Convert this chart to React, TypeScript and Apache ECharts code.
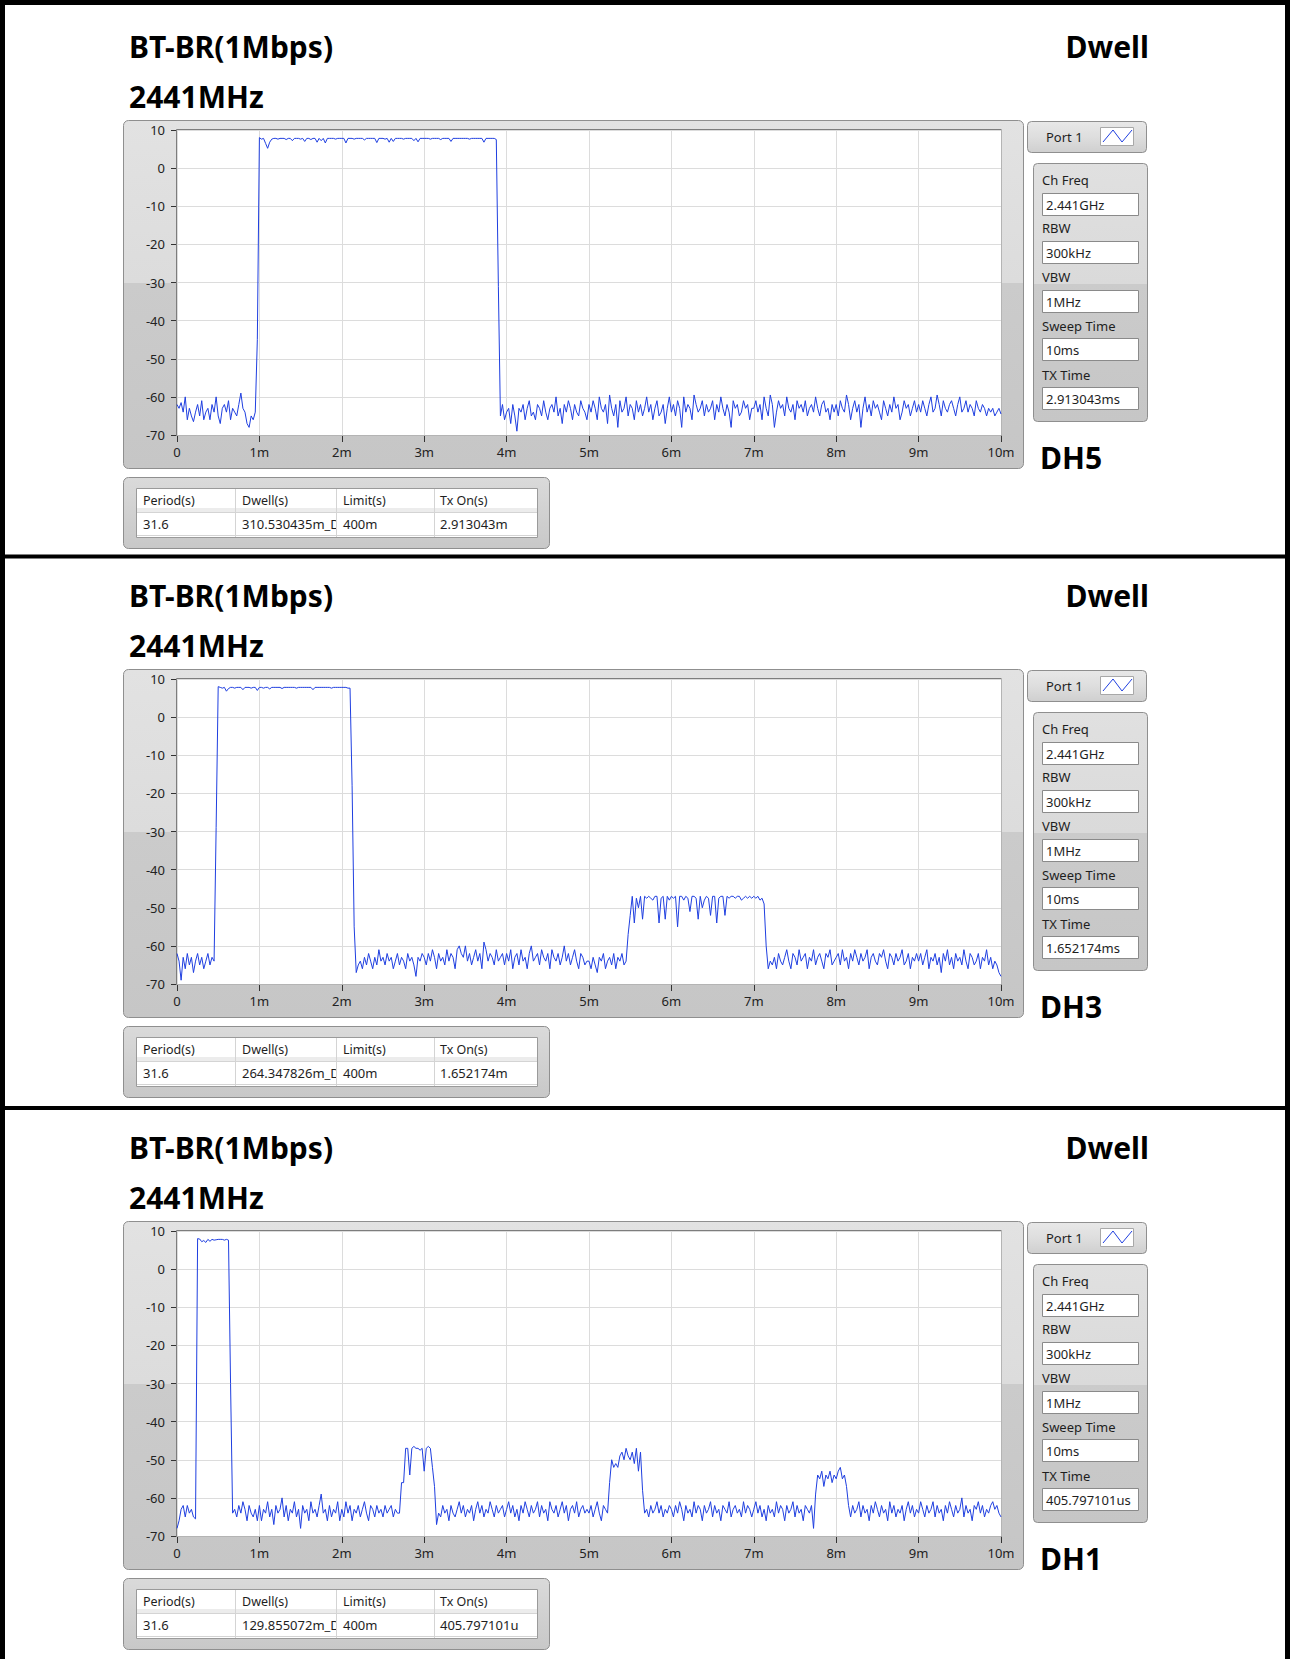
import React, { useEffect, useRef } from 'react';
import * as echarts from 'echarts';

const W = 1290;
const H = 1659;
const panelOffsets = [0, 549, 1101];
const titleText = 'BT-BR(1Mbps)';
const freqText = '2441MHz';
const dwellTitle = 'Dwell';
const packetTypes = ['DH5', 'DH3', 'DH1'];
const portLabel = 'Port 1';
const settingLabels = ['Ch Freq', 'RBW', 'VBW', 'Sweep Time', 'TX Time'];
const fixedSettingValues = ['2.441GHz', '300kHz', '1MHz', '10ms'];
const txTimes = ['2.913043ms', '1.652174ms', '405.797101us'];
const tableHeaders = ['Period(s)', 'Dwell(s)', 'Limit(s)', 'Tx On(s)'];
const periods = ['31.6', '31.6', '31.6'];
const dwells = ['310.530435m_D', '264.347826m_D', '129.855072m_D'];
const limits = ['400m', '400m', '400m'];
const txOns = ['2.913043m', '1.652174m', '405.797101u'];
const xTickLabels = ['0', '1m', '2m', '3m', '4m', '5m', '6m', '7m', '8m', '9m', '10m'];
const sampleStepMs = 0.025;

// DH5 trace, one row per millisecond (40 samples), final sample at 10 ms
const traceDH5 = [
  -62,-63,-61.5,-64,-60,-66,-63,-65,-66.5,-64,-62,-65,-61,-66,-64,-63,-66,-62,-64,-60,-65,-67,-63,-62,-64,-61,-66,-63,-64,-65,-62,-59,-63,-64,-67,-68,-65,-66,-64,-45,
  8,7.6,7.8,6.5,5.2,6.8,7.6,7.8,7.8,7.6,7.8,7.8,7.8,7.5,7.8,7.8,7.2,7.8,7.8,7.8,7.6,7.8,7.0,7.8,7.8,7.5,7.8,7.8,6.8,7.8,7.2,7.8,6.6,7.8,7.8,7.8,7.8,7.6,7.8,7.8,
  7.8,7.8,6.6,7.8,7.8,7.8,7.6,7.8,7.8,7.8,7.8,7.4,7.8,7.8,7.8,7.8,7.8,6.7,7.8,7.8,7.8,7.6,7.8,6.8,7.8,7.0,7.8,7.8,7.8,7.8,7.6,7.8,7.8,7.8,7.8,7.2,7.8,6.9,7.8,7.8,
  7.8,7.8,7.8,7.6,7.8,7.8,7.8,7.8,7.5,7.8,7.8,7.8,7.8,7.0,7.8,7.8,7.8,7.8,7.8,7.8,7.8,7.8,7.6,7.8,7.8,7.8,7.8,7.8,7.8,6.8,7.8,7.8,7.8,7.8,7.8,7.5,-31,-65,-62,-66,
  -64,-63,-67,-62,-65,-69,-63,-64,-62,-66,-63,-61,-65,-64,-66,-62,-63,-65,-61,-64,-66,-63,-62,-64,-60,-65,-63,-67,-62,-64,-61,-63,-66,-62,-64,-65,-61,-63,-64,-66,
  -62,-64,-61,-63,-66,-60,-63,-64,-62,-67,-59.5,-63,-65,-62,-68,-61,-64,-63,-60,-65,-62,-63,-66,-61,-64,-62,-65,-63,-60,-64,-62,-66,-63,-61,-65,-64,-62,-67,-63,-60,
  -64,-62,-65,-61,-63,-68,-60,-64,-62,-63,-66,-59.5,-62,-64,-63,-61,-65,-62,-64,-63,-61,-66,-62,-64,-60,-63,-65,-62,-64,-68,-61,-63,-62,-65,-64,-61,-63,-62,-66,-63,
  -63,-61,-64,-62,-66,-60,-63,-65,-59.5,-62,-68,-64,-61,-63,-62,-65,-60,-63,-64,-62,-66,-61,-63,-62,-64,-61,-65,-63,-62,-64,-60,-63,-65,-62,-61,-64,-63,-66,-62,-64,
  -62,-65,-61,-63,-64,-59.5,-62,-66,-63,-61,-64,-62,-68,-63,-60,-64,-62,-65,-61,-63,-62,-64,-66,-61,-63,-65,-62,-64,-60,-63,-62,-66,-64,-61,-63,-62,-65,-63,-61,-64,
  -62,-64,-61,-63,-65,-62,-60,-64,-63,-59.5,-62,-65,-61,-63,-64,-62,-61,-63,-65,-62,-60,-64,-63,-61,-64,-62,-63,-65,-61,-63,-64,-62,-63,-65,-63,-64,-63,-65,-64,-63,
  -64.5,
];

const traceDH3 = [
  -62,-64,-69,-63,-66,-62,-65,-63,-67,-64,-62,-65,-63,-66,-64,-62,-65,-63,-64,-29,8,7.8,7.6,7.8,6.8,7.5,7.8,7.8,7.6,7.8,7.8,7.8,7.2,7.8,7.8,7.8,7.6,7.8,7.8,7.0,
  7.8,7.8,7.6,7.8,7.8,7.4,7.8,7.8,7.8,7.8,7.8,7.5,7.8,7.8,7.8,7.8,7.8,7.8,7.6,7.8,7.8,7.8,7.8,7.8,7.8,7.8,7.2,7.8,7.8,7.8,7.8,7.8,7.8,7.8,7.8,7.6,7.8,7.8,7.8,7.8,
  7.8,7.8,7.8,7.6,7.6,-18,-55,-67,-65,-64,-66,-63,-65,-62,-64,-66,-63,-65,-61,-64,-63,-65,-62,-64,-63,-66,-64,-62,-65,-63,-64,-66,-62,-64,-63,-65,-68,-63,-64,-62,
  -63,-65,-62,-64,-61,-63,-66,-62,-64,-63,-65,-61,-64,-62,-63,-66,-61,-60,-62,-63,-60,-64,-62,-65,-63,-61,-64,-62,-66,-59,-61,-64,-62,-63,-65,-61,-64,-63,-62,-65,
  -62,-64,-61,-66,-63,-62,-65,-61,-64,-63,-66,-62,-60,-64,-63,-62,-65,-61,-63,-64,-62,-66,-61,-63,-64,-62,-65,-63,-60,-64,-62,-65,-63,-61,-64,-66,-62,-63,-65,-64,
  -64,-66,-63,-65,-67,-63,-64,-62,-66,-64,-63,-65,-62,-66,-63,-64,-62,-65,-64,-57,-52,-47,-54,-47.5,-50,-47,-53,-47,-47.5,-47,-47.5,-48,-47,-47,-54,-47.5,-47,-53,-47,-48,
  -47,-47.5,-47,-55,-47,-47,-48,-47,-47.5,-51,-47,-47,-47.5,-53,-47,-50,-48,-47,-47.5,-52,-47,-47,-54,-47.5,-47,-47,-52,-47,-47.5,-47,-47,-47.5,-47,-47,-48,-47.5,-47,-47.5,-47,-47.5,
  -47,-47.5,-47,-48,-47.5,-49,-60,-66,-64,-65,-63,-66,-62,-64,-65,-63,-61,-64,-66,-62,-63,-65,-61,-64,-63,-62,-66,-63,-64,-61,-65,-63,-62,-64,-66,-62,-63,-61,-65,-64,
  -63,-62,-65,-61,-64,-63,-66,-62,-64,-61,-63,-65,-62,-64,-63,-61,-66,-63,-62,-64,-65,-62,-63,-61,-64,-66,-62,-63,-65,-62,-64,-63,-61,-65,-64,-62,-66,-63,-64,-62,
  -64,-62,-65,-63,-61,-66,-63,-64,-62,-65,-63,-67,-62,-64,-61,-65,-63,-66,-62,-64,-63,-65,-61,-64,-66,-62,-63,-65,-64,-62,-66,-63,-64,-61,-65,-63,-66,-64,-65,-67,
  -68,
];

const traceDH1 = [
  -68,-66,-63,-62,-65,-62,-64,-63,-65,-65.5,8,7.9,7.2,7.5,7.0,7.8,7.3,7.8,7.6,7.7,7.8,7.8,7.8,7.6,7.8,7.6,-30,-64,-63,-65,-62,-64,-61,-63,-66,-62,-64,-65,-63,-66,
  -62,-66,-63,-64,-61,-65,-63,-67,-62,-64,-63,-60,-65,-62,-66,-63,-64,-61,-65,-63,-68,-62,-64,-63,-66,-61,-64,-63,-65,-62,-59,-64,-63,-66,-62,-65,-63,-64,-61,-66,
  -63,-65,-61,-64,-62,-66,-63,-64,-62,-65,-63,-61,-64,-66,-62,-63,-65,-62,-64,-63,-65,-62,-64,-63,-62,-65,-63,-64,-64,-56,-56,-47,-47,-54,-47,-46.5,-47,-47,-47.5,-47,
  -53,-47,-46.5,-47,-52,-57,-67,-64,-65,-62,-64,-63,-66,-62,-64,-65,-63,-61,-64,-62,-65,-63,-64,-62,-66,-63,-61,-64,-62,-65,-63,-64,-61,-63,-65,-62,-64,-63,-62,-65,
  -63,-61,-64,-62,-65,-63,-66,-62,-64,-61,-63,-65,-62,-64,-63,-61,-65,-62,-64,-63,-66,-61,-63,-64,-62,-65,-63,-61,-64,-62,-66,-63,-62,-64,-61,-65,-63,-62,-64,-63,
  -64,-62,-65,-63,-61,-64,-66,-62,-63,-64,-56,-50,-52,-51,-52,-49,-48,-50,-47,-49,-50,-48,-51,-47,-53,-48,-58,-64,-63,-65,-62,-64,-63,-61,-64,-62,-65,-63,-64,-62,
  -63,-65,-62,-64,-61,-63,-66,-62,-64,-63,-65,-61,-64,-62,-63,-66,-62,-64,-63,-61,-65,-62,-64,-63,-66,-62,-63,-64,-61,-65,-63,-62,-64,-63,-65,-61,-64,-62,-63,-65,
  -63,-61,-64,-62,-65,-63,-66,-62,-64,-63,-65,-61,-64,-62,-63,-66,-62,-64,-63,-61,-65,-62,-64,-63,-66,-62,-63,-64,-62,-68,-59,-54,-55,-53,-57,-54,-55,-53,-56,-54,
  -55,-53,-52,-55,-54,-57,-62,-65,-62,-64,-63,-61,-65,-62,-64,-63,-66,-62,-64,-61,-63,-65,-62,-64,-63,-66,-61,-64,-62,-65,-63,-64,-62,-66,-63,-61,-64,-62,-65,-63,
  -64,-61,-63,-65,-62,-64,-63,-61,-65,-62,-64,-63,-66,-62,-64,-61,-63,-65,-62,-64,-63,-60,-65,-62,-64,-63,-66,-62,-63,-61,-64,-62,-65,-63,-64,-62,-61,-63,-62,-64,
  -65,
];

const traces = [traceDH5, traceDH3, traceDH1];

const FONT = 'Noto Sans';
const TRACE_COLOR = '#1f3fe0';

function grad(stops: [number, string][]) {
  return new echarts.graphic.LinearGradient(0, 0, 0, 1, stops.map(([offset, color]) => ({ offset, color })));
}

function txt(x: number, y: number, text: string, size: number, opts: any = {}) {
  return {
    type: 'text',
    x,
    y,
    z: opts.z ?? 3,
    style: {
      text,
      fontSize: size,
      fontFamily: FONT,
      fontWeight: opts.bold ? 'bold' : 'normal',
      fill: opts.color ?? '#1e1e1e',
      textAlign: opts.align ?? 'left',
      align: opts.align ?? 'left',
      textVerticalAlign: 'middle',
      verticalAlign: 'middle',
    },
  };
}

function rect(x: number, y: number, w: number, h: number, fill: any, stroke: string | null, z: number, r = 0, lw = 1) {
  return {
    type: 'rect',
    z,
    shape: { x, y, width: w, height: h, r },
    style: { fill, stroke: stroke ?? 'none', lineWidth: lw },
  };
}

function line(x1: number, y1: number, x2: number, y2: number, color: string, z: number, lw = 1) {
  return { type: 'line', z, shape: { x1, y1, x2, y2 }, style: { stroke: color, lineWidth: lw } };
}

function panelGraphics(k: number) {
  const o = panelOffsets[k];
  const els: any[] = [];
  // titles
  els.push(txt(129, 46 + o, titleText, 30, { bold: true, color: '#000' }));
  els.push(txt(129, 96 + o, freqText, 30, { bold: true, color: '#000' }));
  els.push(txt(1149, 46 + o, dwellTitle, 30, { bold: true, color: '#000', align: 'right' }));
  els.push(txt(1040, 457 + o, packetTypes[k], 30, { bold: true, color: '#000' }));

  // graph frame
  els.push(rect(123.5, 120.5 + o, 900, 348, grad([[0, '#e2e2e2'], [0.466, '#dcdcdc'], [0.467, '#cbcbcb'], [1, '#c6c6c6']]), '#8f8f8f', -10, 5));
  els.push(rect(177, 130 + o, 824, 305, '#ffffff', null, -9));
  els.push(line(176.5, 129.5 + o, 1001.5, 129.5 + o, '#7d7d7d', 1));
  els.push(line(176.5, 129.5 + o, 176.5, 435.5 + o, '#7d7d7d', 1));
  els.push(line(1001.5, 129.5 + o, 1001.5, 435.5 + o, '#b4b4b4', 1));
  els.push(line(176.5, 435.5 + o, 1001.5, 435.5 + o, '#b4b4b4', 1));

  // port box
  els.push(rect(1027.5, 121.5 + o, 119, 31, grad([[0, '#e8e8e8'], [0.5, '#dedede'], [1, '#cfcfcf']]), '#8f8f8f', -10, 4));
  els.push(txt(1046, 137 + o, portLabel, 13));
  els.push(rect(1100.5, 127.5 + o, 33, 18, '#ffffff', '#a8a8a8', 1));
  els.push({
    type: 'polyline',
    z: 2,
    shape: { points: [[1103, 142 + o], [1113, 130 + o], [1122, 142 + o], [1132, 130 + o]] },
    style: { stroke: TRACE_COLOR, lineWidth: 1, fill: 'none' },
  });

  // settings panel
  els.push(rect(1033.5, 163.5 + o, 114, 258, grad([[0, '#e0e0e0'], [0.466, '#dadada'], [0.467, '#cbcbcb'], [1, '#c6c6c6']]), '#8f8f8f', -10, 4));
  const labelY = [180, 228, 277, 326, 375];
  const boxY = [193, 241, 290, 338, 387];
  const values = [...fixedSettingValues, txTimes[k]];
  settingLabels.forEach((lab, i) => {
    els.push(txt(1042, labelY[i] + o, lab, 13));
    els.push(rect(1042.5, boxY[i] + 0.5 + o, 96, 22, '#ffffff', '#8a8a8a', 1));
    els.push(txt(1046, boxY[i] + 11.5 + o, values[i], 13));
  });

  // table panel
  els.push(rect(123.5, 477.5 + o, 426, 71, grad([[0, '#dadada'], [1, '#c8c8c8']]), '#8f8f8f', -10, 5));
  els.push(rect(136.5, 488.5 + o, 401, 49, '#ffffff', '#9a9a9a', 1));
  els.push(rect(137, 508 + o, 400, 4, '#ececec', null, 1));
  els.push(line(137, 512.5 + o, 537, 512.5 + o, '#d4d4d4', 4));
  els.push(line(137, 535.5 + o, 537, 535.5 + o, '#d4d4d4', 4));
  const colX = [136, 235.5, 336.5, 434.5];
  const textX = [143, 242, 343, 440];
  const rowVals = [periods[k], dwells[k], limits[k], txOns[k]];
  tableHeaders.forEach((hd, i) => {
    els.push(txt(textX[i], 500 + o, hd, 12.5, { z: 3 + i * 2 }));
    els.push(txt(textX[i], 524 + o, rowVals[i], 13, { z: 3 + i * 2 }));
    if (i > 0) {
      els.push(rect(colX[i], 489 + o, (colX[i + 1] ?? 537) - colX[i], 48, '#ffffff', null, 2 + i * 2));
      els.push(line(colX[i], 489 + o, colX[i], 537 + o, '#d4d4d4', 2 + i * 2 + 1));
      els.push(rect(colX[i] + 0.5, 508 + o, (colX[i + 1] ?? 537) - colX[i] - 0.5, 4, '#ececec', null, 2 + i * 2));
      els.push(line(colX[i] + 0.5, 512.5 + o, colX[i + 1] ?? 537, 512.5 + o, '#d4d4d4', 2 + i * 2));
      els.push(line(colX[i] + 0.5, 535.5 + o, colX[i + 1] ?? 537, 535.5 + o, '#d4d4d4', 2 + i * 2));
    }
  });
  return els;
}

function buildOption() {
  const grid = panelOffsets.map((o) => ({ left: 177, top: 130 + o, width: 824, height: 305, show: false }));
  const axisFont = { fontFamily: FONT, fontSize: 13, color: '#222' };
  const xAxis = panelOffsets.map((_, k) => ({
    type: 'value',
    gridIndex: k,
    position: 'bottom',
    min: 0,
    max: 10,
    interval: 1,
    axisLine: { show: false, onZero: false },
    axisTick: { show: true, length: 7, lineStyle: { color: '#333' } },
    axisLabel: { ...axisFont, margin: 10, showMaxLabel: true, showMinLabel: true, formatter: (v: number) => xTickLabels[Math.round(v)] ?? '' },
    splitLine: { show: true, lineStyle: { color: '#dcdcdc', width: 1 } },
  }));
  const yAxis = panelOffsets.map((_, k) => ({
    type: 'value',
    gridIndex: k,
    position: 'left',
    min: -70,
    max: 10,
    interval: 10,
    axisLine: { show: false, onZero: false },
    axisTick: { show: true, length: 6, lineStyle: { color: '#333' } },
    axisLabel: { ...axisFont, margin: 12 },
    splitLine: { show: true, lineStyle: { color: '#dcdcdc', width: 1 } },
  }));
  const series = traces.map((tr, k) => ({
    type: 'line',
    xAxisIndex: k,
    yAxisIndex: k,
    showSymbol: false,
    symbol: 'none',
    z: 2,
    lineStyle: { color: TRACE_COLOR, width: 1 },
    data: tr.map((y, i) => [Number((i * sampleStepMs).toFixed(3)), y]),
  }));

  const elements: any[] = [];
  // page border and dividers
  elements.push(rect(2.5, 2.5, 1285, 1680, 'none', '#000', 20, 0, 5));
  elements.push(line(0, 556.5, W, 556.5, '#000', 20, 4));
  elements.push(line(0, 1108, W, 1108, '#000', 20, 4));
  panelOffsets.forEach((_, k) => elements.push(...panelGraphics(k)));

  return {
    animation: false,
    backgroundColor: '#ffffff',
    grid,
    xAxis,
    yAxis,
    series,
    graphic: { elements },
  };
}

export default function App() {
  const ref = useRef<HTMLDivElement>(null);
  useEffect(() => {
    document.body.style.margin = '0';
    if (!ref.current) return;
    const chart = echarts.init(ref.current, null, { renderer: 'svg' });
    chart.setOption(buildOption() as any);
    return () => chart.dispose();
  }, []);
  return <div ref={ref} style={{ width: W, height: H, background: '#fff' }} />;
}
